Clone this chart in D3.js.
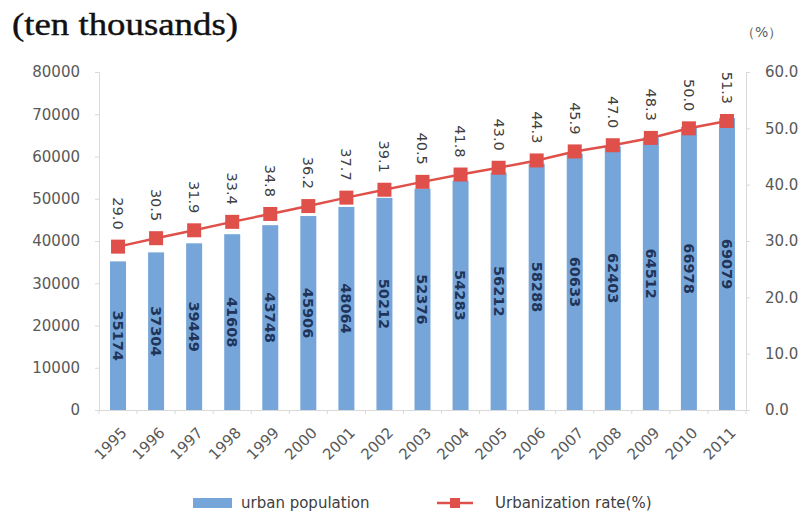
<!DOCTYPE html>
<html>
<head>
<meta charset="utf-8">
<script src="https://cdn.jsdelivr.net/npm/d3@7"></script>
<style>
  body { margin: 0; background: #fff; }
  svg { display: block; }
</style>
</head>
<body>
<div id="chart"></div>
<script>
// data
const years = ["1995", "1996", "1997", "1998", "1999", "2000", "2001", "2002", "2003",
               "2004", "2005", "2006", "2007", "2008", "2009", "2010", "2011"];
const urbanPopulation = [35174, 37304, 39449, 41608, 43748, 45906, 48064, 50212, 52376,
                         54283, 56212, 58288, 60633, 62403, 64512, 66978, 69079];
const urbanizationRate = [29.0, 30.5, 31.9, 33.4, 34.8, 36.2, 37.7, 39.1, 40.5,
                          41.8, 43.0, 44.3, 45.9, 47.0, 48.3, 50.0, 51.3];
const leftTicks = [0, 10000, 20000, 30000, 40000, 50000, 60000, 70000, 80000];
const rightTicks = [0, 10, 20, 30, 40, 50, 60];

const width = 803, height = 518;
const margin = { top: 72, right: 57, bottom: 108, left: 99 };
const barColor = "#75a5d9";
const lineColor = "#e0504a";
const axisColor = "#d9d9d9";
const textColor = "#595959";

const svg = d3.select("#chart").append("svg")
    .attr("width", width)
    .attr("height", height);

const x = d3.scaleBand()
    .domain(years)
    .range([margin.left, width - margin.right])
    .paddingInner(0.58)
    .paddingOuter(0.29);

const yLeft = d3.scaleLinear()
    .domain([0, 80000])
    .range([height - margin.bottom, margin.top]);

const yRight = d3.scaleLinear()
    .domain([0, 60])
    .range([height - margin.bottom, margin.top]);

// title + unit
svg.append("text")
    .attr("x", 12)
    .attr("y", 35)
    .attr("textLength", 226)
    .attr("lengthAdjust", "spacingAndGlyphs")
    .style("font-family", "Liberation Serif, serif")
    .style("font-size", "31px")
    .style("fill", "#111")
    .style("stroke", "#111")
    .style("stroke-width", 0.4)
    .text("(ten thousands)");

svg.append("text")
    .attr("x", 741)
    .attr("y", 37)
    .style("font-family", "DejaVu Sans, sans-serif")
    .style("font-size", "14px")
    .style("fill", textColor)
    .text("（%）");

// left axis
const leftAxis = svg.append("g")
    .attr("transform", `translate(${margin.left},0)`)
    .call(d3.axisLeft(yLeft).tickValues(leftTicks).tickSize(4).tickPadding(15)
        .tickFormat(d3.format("d")));

// right axis
const rightAxis = svg.append("g")
    .attr("transform", `translate(${width - margin.right},0)`)
    .call(d3.axisRight(yRight).tickValues(rightTicks).tickSize(4).tickPadding(15)
        .tickFormat(d3.format(".1f")));

// bottom axis, ticks sit between categories
const bottomAxis = svg.append("g")
    .attr("transform", `translate(0,${height - margin.bottom})`)
    .call(d3.axisBottom(x).tickSize(0));

bottomAxis.selectAll(".tick text")
    .attr("x", 0)
    .attr("y", 0)
    .attr("text-anchor", "end")
    .attr("dy", "0.35em")
    .attr("transform", "translate(6,20) rotate(-45)");

const step = x.step();
bottomAxis.selectAll(".sep")
    .data(d3.range(years.length + 1))
    .enter()
    .append("line")
    .attr("class", "sep")
    .attr("x1", i => margin.left + i * step)
    .attr("x2", i => margin.left + i * step)
    .attr("y1", 0)
    .attr("y2", 4)
    .attr("stroke", axisColor);

[leftAxis, rightAxis, bottomAxis].forEach(function (g) {
    g.selectAll("path, line").attr("stroke", axisColor);
    g.selectAll("text")
        .style("font-family", "DejaVu Sans, sans-serif")
        .style("font-size", "15px")
        .style("fill", textColor);
});

// bars
svg.selectAll(".bar")
    .data(urbanPopulation)
    .enter()
    .append("rect")
    .attr("class", "bar")
    .attr("x", (d, i) => x(years[i]))
    .attr("y", d => yLeft(d))
    .attr("width", x.bandwidth())
    .attr("height", d => yLeft(0) - yLeft(d))
    .attr("fill", barColor);

// bar labels, rotated inside the bar
svg.selectAll(".bar-label")
    .data(urbanPopulation)
    .enter()
    .append("text")
    .attr("class", "bar-label")
    .attr("transform", (d, i) => {
        const cx = x(years[i]) + x.bandwidth() / 2;
        const cy = (yLeft(d) + yLeft(0)) / 2;
        return `translate(${cx},${cy}) rotate(90)`;
    })
    .attr("text-anchor", "middle")
    .attr("dy", "0.35em")
    .style("font-family", "DejaVu Sans, sans-serif")
    .style("font-size", "14.5px")
    .style("font-weight", "bold")
    .style("fill", "#1f3458")
    .text(d => d);

// line + markers
const line = d3.line()
    .x((d, i) => x(years[i]) + x.bandwidth() / 2)
    .y(d => yRight(d));

svg.append("path")
    .datum(urbanizationRate)
    .attr("d", line)
    .attr("fill", "none")
    .attr("stroke", lineColor)
    .attr("stroke-width", 2.5);

const ms = 14;
svg.selectAll(".marker")
    .data(urbanizationRate)
    .enter()
    .append("rect")
    .attr("class", "marker")
    .attr("x", (d, i) => x(years[i]) + x.bandwidth() / 2 - ms / 2)
    .attr("y", d => yRight(d) - ms / 2)
    .attr("width", ms)
    .attr("height", ms)
    .attr("fill", lineColor);

svg.selectAll(".rate-label")
    .data(urbanizationRate)
    .enter()
    .append("text")
    .attr("class", "rate-label")
    .attr("transform", (d, i) => {
        const cx = x(years[i]) + x.bandwidth() / 2;
        const cy = yRight(d) - 17;
        return `translate(${cx},${cy}) rotate(90)`;
    })
    .attr("text-anchor", "end")
    .attr("dy", "0.35em")
    .style("font-family", "DejaVu Sans, sans-serif")
    .style("font-size", "14.5px")
    .style("fill", "#404040")
    .text(d => d.toFixed(1));

// legend
const legend = svg.append("g").attr("transform", "translate(0,503)");
legend.append("rect")
    .attr("x", 193).attr("y", -5)
    .attr("width", 39).attr("height", 10)
    .attr("fill", barColor);
legend.append("text")
    .attr("x", 241).attr("y", 0).attr("dy", "0.35em")
    .text("urban population");
legend.append("line")
    .attr("x1", 437).attr("x2", 473)
    .attr("y1", 0).attr("y2", 0)
    .attr("stroke", lineColor).attr("stroke-width", 2.5);
legend.append("rect")
    .attr("x", 450).attr("y", -5)
    .attr("width", 10).attr("height", 10)
    .attr("fill", lineColor);
legend.append("text")
    .attr("x", 495).attr("y", 0).attr("dy", "0.35em")
    .text("Urbanization rate(%)");
legend.selectAll("text")
    .style("font-family", "DejaVu Sans, sans-serif")
    .style("font-size", "15px")
    .style("fill", "#404040");
</script>
</body>
</html>
